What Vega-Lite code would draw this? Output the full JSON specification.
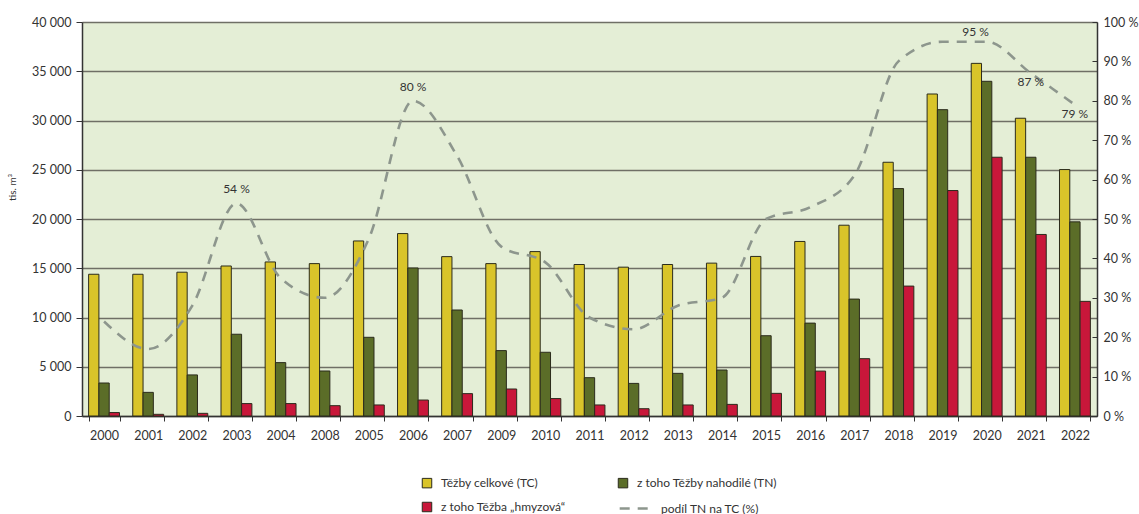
{
  "$schema": "https://vega.github.io/schema/vega-lite/v6.json",
  "autosize": {"type": "none"},
  "padding": {"left": 82, "top": 22, "right": 42, "bottom": 98},
  "width": 1015,
  "height": 394,
  "background": "white",
  "data": {
    "values": [
      {"year": "2000", "TC": 14390, "TN": 3350, "HM": 350, "pct": 24},
      {"year": "2001", "TC": 14390, "TN": 2400, "HM": 170, "pct": 17},
      {"year": "2002", "TC": 14600, "TN": 4170, "HM": 270, "pct": 28},
      {"year": "2003", "TC": 15230, "TN": 8300, "HM": 1260, "pct": 54, "label": "54 %"},
      {"year": "2004", "TC": 15640, "TN": 5420, "HM": 1260, "pct": 35},
      {"year": "2008", "TC": 15470, "TN": 4570, "HM": 1050, "pct": 30},
      {"year": "2005", "TC": 17770, "TN": 7990, "HM": 1120, "pct": 45},
      {"year": "2006", "TC": 18520, "TN": 15030, "HM": 1620, "pct": 80, "label": "80 %"},
      {"year": "2007", "TC": 16180, "TN": 10760, "HM": 2270, "pct": 66},
      {"year": "2009", "TC": 15470, "TN": 6640, "HM": 2740, "pct": 43},
      {"year": "2010", "TC": 16690, "TN": 6470, "HM": 1770, "pct": 39},
      {"year": "2011", "TC": 15380, "TN": 3890, "HM": 1120, "pct": 25},
      {"year": "2012", "TC": 15110, "TN": 3310, "HM": 740, "pct": 22},
      {"year": "2013", "TC": 15380, "TN": 4330, "HM": 1120, "pct": 28},
      {"year": "2014", "TC": 15520, "TN": 4670, "HM": 1180, "pct": 30},
      {"year": "2015", "TC": 16200, "TN": 8150, "HM": 2300, "pct": 50},
      {"year": "2016", "TC": 17720, "TN": 9430, "HM": 4560, "pct": 53},
      {"year": "2017", "TC": 19370, "TN": 11870, "HM": 5820, "pct": 61},
      {"year": "2018", "TC": 25760, "TN": 23090, "HM": 13190, "pct": 90},
      {"year": "2019", "TC": 32690, "TN": 31100, "HM": 22890, "pct": 95},
      {"year": "2020", "TC": 35800, "TN": 33980, "HM": 26270, "pct": 95, "label": "95 %"},
      {"year": "2021", "TC": 30230, "TN": 26270, "HM": 18430, "pct": 87, "label": "87 %"},
      {"year": "2022", "TC": 25020, "TN": 19710, "HM": 11640, "pct": 79, "label": "79 %"}
    ]
  },
  "encoding": {
    "x": {
      "field": "year",
      "type": "nominal",
      "sort": ["2000","2001","2002","2003","2004","2008","2005","2006","2007","2009","2010","2011","2012","2013","2014","2015","2016","2017","2018","2019","2020","2021","2022"],
      "scale": {"paddingInner": 0.3, "paddingOuter": 0.15},
      "axis": {
        "title": null,
        "labelAngle": 0,
        "tickBand": "extent",
        "tickSize": 5,
        "tickColor": "#333333",
        "domainColor": "#333333",
        "domainWidth": 1.5,
        "labelPadding": 8,
        "labelFontSize": 12.5,
        "labelColor": "#333333"
      }
    }
  },
  "layer": [
    {
      "transform": [{"fold": ["TC", "TN", "HM"], "as": ["series", "value"]}],
      "mark": {"type": "bar", "stroke": "#2b2b1c", "strokeWidth": 1},
      "encoding": {
        "xOffset": {"field": "series", "type": "nominal", "sort": ["TC", "TN", "HM"], "scale": {"paddingInner": 0, "paddingOuter": 0}},
        "y": {
          "field": "value",
          "type": "quantitative",
          "scale": {"domain": [0, 40000], "nice": false},
          "axis": {
            "title": "tis. m³",
            "titleFontSize": 10,
            "titleFontWeight": "normal",
            "titleColor": "#333333",
            "titleX": -65,
            "titleY": 165,
            "values": [0, 5000, 10000, 15000, 20000, 25000, 30000, 35000, 40000],
            "format": ",d",
            "grid": true,
            "gridColor": "#6f6f66",
            "gridWidth": 1.6,
            "domainColor": "#333333",
            "domainWidth": 1.5,
            "tickColor": "#333333",
            "tickSize": 6,
            "labelPadding": 5,
            "labelFontSize": 12.5,
            "labelColor": "#333333"
          }
        },
        "color": {
          "field": "series",
          "type": "nominal",
          "sort": ["TC", "TN", "HM"],
          "scale": {"domain": ["TC", "TN", "HM"], "range": ["#d9c42a", "#5b6d28", "#c8173a"]},
          "legend": {
            "title": null,
            "orient": "none",
            "direction": "horizontal",
            "legendX": 339,
            "legendY": 455,
            "columns": 2,
            "columnPadding": 50,
            "rowPadding": 10,
            "symbolType": "square",
            "symbolSize": 90,
            "symbolStrokeColor": "#2b2b1c",
            "symbolStrokeWidth": 1,
            "labelOffset": 8,
            "labelFontSize": 12,
            "labelColor": "#333333",
            "labelExpr": "datum.label == 'TC' ? 'Těžby celkové (TC)' : datum.label == 'TN' ? 'z toho Těžby nahodilé (TN)' : 'z toho Těžba „hmyzová“'"
          }
        }
      }
    },
    {
      "mark": {"type": "line", "stroke": "#8d968d", "strokeWidth": 2.6, "interpolate": "monotone"},
      "encoding": {
        "y": {
          "field": "pct",
          "type": "quantitative",
          "scale": {"domain": [0, 100], "nice": false},
          "axis": {
            "orient": "right",
            "title": null,
            "values": [0, 10, 20, 30, 40, 50, 60, 70, 80, 90, 100],
            "labelExpr": "datum.value + ' %'",
            "grid": false,
            "domainColor": "#333333",
            "domainWidth": 1.5,
            "tickColor": "#333333",
            "tickSize": -5,
            "labelPadding": 11,
            "labelFontSize": 12.5,
            "labelColor": "#333333"
          }
        },
        "strokeDash": {
          "datum": "podíl TN na TC (%)",
          "scale": {"range": [[10, 8]]},
          "legend": {
            "title": null,
            "orient": "none",
            "legendX": 536,
            "legendY": 469,
            "symbolType": "stroke",
            "symbolSize": 1000,
            "symbolStrokeColor": "#8d968d",
            "symbolStrokeWidth": 2.5,
            "symbolDash": [8, 5],
            "labelOffset": 8,
            "labelFontSize": 12,
            "labelColor": "#333333"
          }
        }
      }
    },
    {
      "transform": [{"filter": "datum.year == '2003' || datum.year == '2006'"}],
      "mark": {"type": "text", "dy": -14, "fontSize": 12, "color": "#333333"},
      "encoding": {
        "y": {"field": "pct", "type": "quantitative", "scale": {"domain": [0, 100], "nice": false}, "axis": null},
        "text": {"field": "label"}
      }
    },
    {
      "transform": [{"filter": "datum.year == '2020'"}],
      "mark": {"type": "text", "dy": -10, "dx": -11, "fontSize": 12, "color": "#333333"},
      "encoding": {
        "y": {"field": "pct", "type": "quantitative", "scale": {"domain": [0, 100], "nice": false}, "axis": null},
        "text": {"field": "label"}
      }
    },
    {
      "transform": [{"filter": "datum.year == '2021' || datum.year == '2022'"}],
      "mark": {"type": "text", "dy": 9, "fontSize": 12, "color": "#333333"},
      "encoding": {
        "y": {"field": "pct", "type": "quantitative", "scale": {"domain": [0, 100], "nice": false}, "axis": null},
        "text": {"field": "label"}
      }
    }
  ],
  "resolve": {"scale": {"y": "independent"}},
  "config": {
    "font": "Lato",
    "view": {"fill": "#e4eed6", "stroke": null},
    "locale": {"number": {"decimal": ",", "thousands": " ", "grouping": [3], "currency": ["", " Kč"]}}
  }
}
